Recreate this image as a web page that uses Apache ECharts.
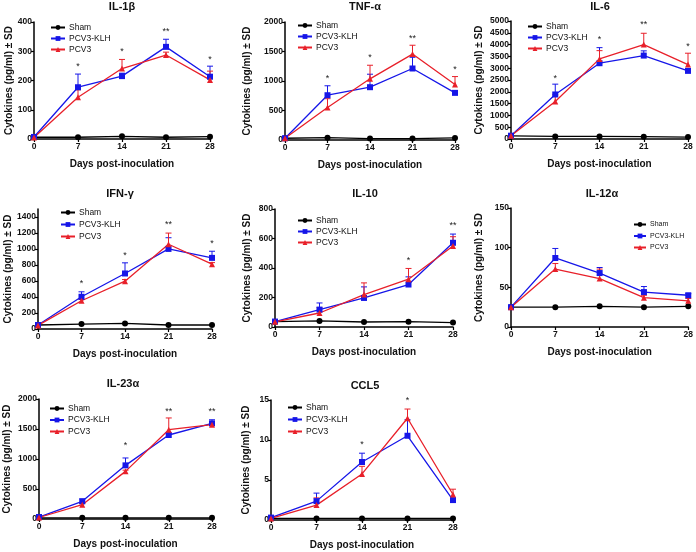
<!DOCTYPE html>
<html><head><meta charset="utf-8">
<script src="https://cdn.jsdelivr.net/npm/echarts@6/dist/echarts.min.js"></script>
<style>html,body{margin:0;padding:0;background:#fff}#c{width:696px;height:552px}</style>
</head><body><div id="c"></div>
<script>
const days = [0, 7, 14, 21, 28];

// IL-1β
const il1b_sham = [6, 6, 9, 6, 8];
const il1b_klh = [7, 177, 215, 315, 213];
const il1b_pcv3 = [5, 143, 241, 287, 202];
const il1b_klh_sd = [0, 45, 10, 26, 36];
const il1b_pcv3_sd = [0, 25, 31, 10, 30];
const il1b_sig = ['', '*', '*', '**', '*'];
const il1b_sigY = [0, 247, 298, 366, 272];

// TNF-α
const tnf_sham = [30, 40, 25, 25, 35];
const tnf_klh = [30, 759, 895, 1212, 799];
const tnf_pcv3 = [30, 550, 1037, 1456, 940];
const tnf_klh_sd = [0, 160, 220, 190, 20];
const tnf_pcv3_sd = [0, 150, 230, 150, 135];
const tnf_sig = ['', '*', '*', '**', '*'];
const tnf_sigY = [0, 1037, 1394, 1717, 1190];

// IL-6
const il6_sham = [130, 110, 110, 100, 80];
const il6_klh = [140, 1887, 3211, 3535, 2887];
const il6_pcv3 = [140, 1592, 3394, 4000, 3155];
const il6_klh_sd = [0, 437, 660, 200, 60];
const il6_pcv3_sd = [0, 280, 350, 480, 480];
const il6_sig = ['', '*', '*', '**', '*'];
const il6_sigY = [0, 2577, 4225, 4831, 3915];

// IFN-γ
const ifn_sham = [50, 62, 70, 50, 50];
const ifn_klh = [50, 403, 694, 1001, 889];
const ifn_pcv3 = [45, 353, 598, 1059, 810];
const ifn_klh_sd = [0, 62, 133, 140, 83];
const ifn_pcv3_sd = [0, 15, 20, 140, 20];
const ifn_sig = ['', '*', '*', '**', '*'];
const ifn_sigY = [0, 569, 922, 1308, 1067];

// IL-10
const il10_sham = [36, 41, 34, 36, 30];
const il10_klh = [37, 118, 197, 288, 571];
const il10_pcv3 = [35, 95, 220, 324, 549];
const il10_klh_sd = [0, 45, 75, 52, 59];
const il10_pcv3_sd = [0, 36, 79, 73, 63];
const il10_sig = ['', '', '', '*', '**'];
const il10_sigY = [0, 0, 0, 449, 687];

// IL-12α
const il12_sham = [25, 25, 26, 25, 26];
const il12_klh = [25, 87, 68, 44, 40];
const il12_pcv3 = [25, 73, 61, 37, 33];
const il12_klh_sd = [0, 12, 7, 7, 2];
const il12_pcv3_sd = [0, 7, 12, 3, 3];
const il12_sig = ['', '', '', '', ''];
const il12_sigY = [0, 0, 0, 0, 0];

// IL-23α
const il23_sham = [20, 20, 20, 20, 20];
const il23_klh = [33, 294, 894, 1400, 1594];
const il23_pcv3 = [25, 239, 794, 1489, 1572];
const il23_klh_sd = [0, 40, 123, 20, 60];
const il23_pcv3_sd = [0, 20, 20, 195, 20];
const il23_sig = ['', '', '*', '**', '**'];
const il23_sigY = [0, 0, 1222, 1794, 1794];

// CCL5
const ccl5_sham = [0.2, 0.2, 0.2, 0.2, 0.2];
const ccl5_klh = [0.3, 2.36, 7.25, 10.53, 2.49];
const ccl5_pcv3 = [0.2, 1.86, 5.76, 12.72, 3.19];
const ccl5_klh_sd = [0, 1.0, 1.1, 2.0, 0.1];
const ccl5_pcv3_sd = [0, 0.9, 0.95, 1.15, 0.66];
const ccl5_sig = ['', '', '*', '*', ''];
const ccl5_sigY = [0, 0, 9.4, 14.9, 0];

const panelTitles = ['IL-1β', 'TNF-α', 'IL-6', 'IFN-γ', 'IL-10', 'IL-12α', 'IL-23α', 'CCL5'];
const yMax = [400, 2000, 5000, 1500, 800, 150, 2000, 15];
const yInterval = [100, 500, 500, 200, 200, 50, 500, 5];
const legendNames = ['Sham', 'PCV3-KLH', 'PCV3'];
const yTitle = 'Cytokines (pg/ml) ± SD';
const xTitle = 'Days post-inoculation';

const panelData = [
  [il1b_sham, il1b_klh, il1b_pcv3, il1b_klh_sd, il1b_pcv3_sd, il1b_sig, il1b_sigY],
  [tnf_sham, tnf_klh, tnf_pcv3, tnf_klh_sd, tnf_pcv3_sd, tnf_sig, tnf_sigY],
  [il6_sham, il6_klh, il6_pcv3, il6_klh_sd, il6_pcv3_sd, il6_sig, il6_sigY],
  [ifn_sham, ifn_klh, ifn_pcv3, ifn_klh_sd, ifn_pcv3_sd, ifn_sig, ifn_sigY],
  [il10_sham, il10_klh, il10_pcv3, il10_klh_sd, il10_pcv3_sd, il10_sig, il10_sigY],
  [il12_sham, il12_klh, il12_pcv3, il12_klh_sd, il12_pcv3_sd, il12_sig, il12_sigY],
  [il23_sham, il23_klh, il23_pcv3, il23_klh_sd, il23_pcv3_sd, il23_sig, il23_sigY],
  [ccl5_sham, ccl5_klh, ccl5_pcv3, ccl5_klh_sd, ccl5_pcv3_sd, ccl5_sig, ccl5_sigY]
];

// layout: plot rect [x0, x1, yTop, yBottom], title pos, legend [left, top, gap, fontSize, itemWidth], y-name gap
const layout = [
  {g: [34, 210, 22, 139], t: [122, 1], lg: [50, 23, 2, 8.5, 14], yg: 20},
  {g: [285, 455, 22, 140], t: [365, 1], lg: [297, 21, 2, 8.5, 14], yg: 33},
  {g: [511, 688, 21, 139], t: [600, 1], lg: [527, 22, 2, 8.5, 14], yg: 27},
  {g: [38, 212, 209, 329], t: [120, 188], lg: [60, 208, 3, 8.5, 14], yg: 25},
  {g: [275, 453, 209, 327], t: [365, 188], lg: [297, 216, 2, 8.5, 14], yg: 23},
  {g: [511, 690, 208, 327], t: [602, 188], lg: [633, 221, 4.5, 7, 12], yg: 27},
  {g: [39, 212, 399, 519], t: [123, 378], lg: [49, 404, 2.5, 8.5, 14], yg: 27},
  {g: [271, 453, 400, 520], t: [365, 380], lg: [287, 403, 3, 8.5, 14], yg: 20}
];

const FONT = 'Liberation Sans, Arial, Helvetica, sans-serif';
const C_SHAM = '#000000', C_KLH = '#1616e8', C_PCV = '#e8202a';

const option = {
  animation: false,
  backgroundColor: '#ffffff',
  textStyle: {fontFamily: FONT},
  title: [], grid: [], xAxis: [], yAxis: [], legend: [], series: []
};

function errSeries(i, vals, sds, color) {
  return {
    type: 'custom', xAxisIndex: i, yAxisIndex: i, z: 1, silent: true,
    data: days.map((d, j) => [d, vals[j], vals[j] + sds[j]]),
    encode: {x: 0, y: [1, 2]},
    renderItem: function (params, api) {
      const p0 = api.coord([api.value(0), api.value(1)]);
      const p1 = api.coord([api.value(0), api.value(2)]);
      return {type: 'group', children: [
        {type: 'line', shape: {x1: p0[0], y1: p0[1], x2: p1[0], y2: p1[1]}, style: {stroke: color, lineWidth: 1}},
        {type: 'line', shape: {x1: p1[0] - 3, y1: p1[1], x2: p1[0] + 3, y2: p1[1]}, style: {stroke: color, lineWidth: 1}}
      ]};
    }
  };
}

panelData.forEach((pd, i) => {
  const L = layout[i];
  const [sham, klh, pcv, klhSd, pcvSd, sig, sigY] = pd;
  option.title.push({
    text: panelTitles[i], left: L.t[0], top: L.t[1], textAlign: 'center', padding: 0,
    textStyle: {fontFamily: FONT, fontSize: 11, fontWeight: 'bold', color: '#111'}
  });
  option.grid.push({left: L.g[0], top: L.g[2], width: L.g[1] - L.g[0], height: L.g[3] - L.g[2], containLabel: false});
  option.xAxis.push({
    gridIndex: i, type: 'value', min: 0, max: 28, interval: 7,
    name: xTitle, nameLocation: 'middle', nameGap: 20,
    nameTextStyle: {fontFamily: FONT, fontSize: 10, fontWeight: 'bold', color: '#111'},
    axisLine: {show: true, lineStyle: {color: '#000', width: 1.5}},
    axisTick: {show: true, length: 3, lineStyle: {color: '#000', width: 1.2}},
    axisLabel: {margin: 3, fontFamily: FONT, fontSize: 8.5, fontWeight: 'bold', color: '#111'},
    splitLine: {show: false}
  });
  option.yAxis.push({
    gridIndex: i, type: 'value', min: 0, max: yMax[i], interval: yInterval[i],
    name: yTitle, nameLocation: 'middle', nameGap: L.yg, nameRotate: 90,
    nameTextStyle: {fontFamily: FONT, fontSize: 10, fontWeight: 'bold', color: '#111'},
    axisLine: {show: true, lineStyle: {color: '#000', width: 1.5}},
    axisTick: {show: true, length: 3, lineStyle: {color: '#000', width: 1.2}},
    axisLabel: {margin: 2, fontFamily: FONT, fontSize: 8.5, fontWeight: 'bold', color: '#111',
      showMaxLabel: i !== 3, formatter: v => String(v)},
    splitLine: {show: false}
  });
  option.legend.push({
    data: legendNames, orient: 'vertical', left: L.lg[0], top: L.lg[1], itemGap: L.lg[2],
    itemWidth: L.lg[4], itemHeight: 6, selectedMode: false, padding: 0,
    textStyle: {fontFamily: FONT, fontSize: L.lg[3], color: '#111', padding: [0, 0, 0, -1]}
  });
  option.series.push(errSeries(i, klh, klhSd, C_KLH));
  option.series.push(errSeries(i, pcv, pcvSd, C_PCV));
  option.series.push({
    name: 'Sham', type: 'line', xAxisIndex: i, yAxisIndex: i, z: 3,
    data: days.map((d, j) => [d, sham[j]]), symbol: 'circle', symbolSize: 6,
    itemStyle: {color: C_SHAM}, lineStyle: {color: C_SHAM, width: 1.3}
  });
  option.series.push({
    name: 'PCV3-KLH', type: 'line', xAxisIndex: i, yAxisIndex: i, z: 3,
    data: days.map((d, j) => [d, klh[j]]), symbol: 'rect', symbolSize: 6,
    itemStyle: {color: C_KLH}, lineStyle: {color: C_KLH, width: 1.3}
  });
  option.series.push({
    name: 'PCV3', type: 'line', xAxisIndex: i, yAxisIndex: i, z: 3,
    data: days.map((d, j) => [d, pcv[j]]), symbol: 'triangle', symbolSize: 6,
    itemStyle: {color: C_PCV}, lineStyle: {color: C_PCV, width: 1.3}
  });
  const sigData = [];
  days.forEach((d, j) => { if (sig[j]) sigData.push([d, sigY[j], sig[j]]); });
  option.series.push({
    type: 'custom', xAxisIndex: i, yAxisIndex: i, z: 4, silent: true,
    data: sigData, encode: {x: 0, y: 1},
    renderItem: function (params, api) {
      const p = api.coord([api.value(0), api.value(1)]);
      return {type: 'text', x: p[0], y: p[1], style: {
        text: sigData[params.dataIndex][2], fill: '#222', font: '9px ' + FONT,
        align: 'center', verticalAlign: 'middle'}};
    }
  });
});

const chart = echarts.init(document.getElementById('c'), null, {renderer: 'canvas'});
chart.setOption(option);
</script>
</body></html>
